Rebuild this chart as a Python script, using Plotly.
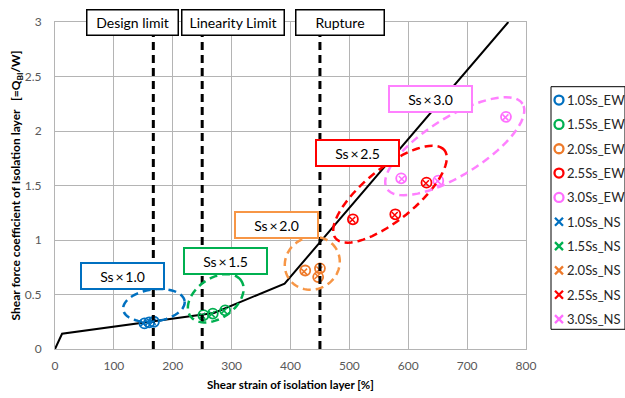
import math
import plotly.graph_objects as go

# ---- data -------------------------------------------------------------
# restoring-force skeleton of the isolation layer (strain %, shear coefficient)
skeleton_strain = [0, 12, 270, 390, 770]
skeleton_coef = [0, 0.14, 0.33, 0.60, 3.00]

# limit strains [%]
limit_names = ["Design limit", "Linearity Limit", "Rupture"]
limit_strain = [167, 250, 450]

# response results per input level
levels = ["1.0Ss", "1.5Ss", "2.0Ss", "2.5Ss", "3.0Ss"]
ew_strain = [[152, 160, 168], [252, 268, 289], [425, 450, 447], [506, 578, 631], [588, 651, 766]]
ew_coef = [[0.235, 0.245, 0.25], [0.31, 0.325, 0.355], [0.72, 0.74, 0.66], [1.19, 1.236, 1.526], [1.566, 1.544, 2.13]]
ns_strain = [[150, 158, 166], [250, 266, 287], [423, 449, 446], [505, 577, 630], [589, 650, 765]]
ns_coef = [[0.235, 0.24, 0.25], [0.305, 0.32, 0.35], [0.71, 0.73, 0.67], [1.185, 1.23, 1.52], [1.56, 1.54, 2.125]]

level_labels = ["Ss\u2009×\u20091.0", "Ss\u2009×\u20091.5", "Ss\u2009×\u20092.0", "Ss\u2009×\u20092.5", "Ss\u2009×\u20093.0"]

# ---- styling ----------------------------------------------------------
marker_colors = ["#0070C0", "#00B050", "#EE7A2A", "#FF0000", "#FF6EFF"]
outline_colors = ["#0070C0", "#00B050", "#F79646", "#FF0000", "#FF80FF"]
FONT = "Lato"
GRID = "#B4B4B4"

W, H = 625, 398
ML, MR, MT, MB = 55, 0, 22, 49
PLOT_W, PLOT_H = 471, 327
X_MAX, Y_MAX = 800, 3
sx = PLOT_W / X_MAX
sy = PLOT_H / Y_MAX

# group outlines: centre (data), semi-axes (px), tilt (deg)
groups = [
    dict(c=(168, 0.40), a=31, b=16, ang=8),
    dict(c=(273, 0.465), a=31, b=20, ang=35),
    dict(c=(437, 0.786), a=28, b=26, ang=30),
    dict(c=(569, 1.42), a=70, b=26, ang=39),
    dict(c=(679, 1.86), a=80, b=29, ang=32),
]
label_pos = [(114, 0.67), (289, 0.81), (377, 1.14), (513, 1.795), (637, 2.29)]
limit_label_pos = [131, 302, 484]
limit_label_w = [88, 99, 85]

fig = go.Figure()

# skeleton curve
fig.add_trace(go.Scatter(x=skeleton_strain, y=skeleton_coef, mode="lines",
                         line=dict(color="black", width=2), showlegend=False,
                         hoverinfo="skip"))

# responses
for i, lev in enumerate(levels):
    fig.add_trace(go.Scatter(x=ew_strain[i], y=ew_coef[i], mode="markers", name=lev + "_EW",
                             marker=dict(symbol="circle-open", size=10, color=marker_colors[i],
                                         line=dict(width=1.8, color=marker_colors[i])),
                             showlegend=False))
for i, lev in enumerate(levels):
    fig.add_trace(go.Scatter(x=ns_strain[i], y=ns_coef[i], mode="markers", name=lev + "_NS",
                             marker=dict(symbol="x-thin", size=6, color=marker_colors[i],
                                         line=dict(width=1.5, color=marker_colors[i])),
                             showlegend=False))

shapes = []
annotations = []

# limit lines
for xs in limit_strain:
    shapes.append(dict(type="line", xref="x", yref="y", x0=xs, x1=xs, y0=0, y1=Y_MAX,
                       line=dict(color="black", width=3, dash="8px,5px"), layer="above"))

# dashed group outlines
for g, col in zip(groups, outline_colors):
    cx, cy = g["c"]
    th = math.radians(g["ang"])
    pts = []
    for k in range(73):
        t = 2 * math.pi * k / 72
        dx = g["a"] * math.cos(t) * math.cos(th) - g["b"] * math.sin(t) * math.sin(th)
        dy = g["a"] * math.cos(t) * math.sin(th) + g["b"] * math.sin(t) * math.cos(th)
        pts.append((cx + dx / sx, cy + dy / sy))
    path = "M " + " L ".join(f"{px:.3f},{py:.4f}" for px, py in pts) + " Z"
    shapes.append(dict(type="path", xref="x", yref="y", path=path,
                       line=dict(color=col, width=2.5, dash="8px,5px"), layer="above"))

# level labels
for (lx, ly), txt, col in zip(label_pos, level_labels, outline_colors):
    annotations.append(dict(x=lx, y=ly, xref="x", yref="y", text=txt, showarrow=False,
                            font=dict(family=FONT, size=14, color="black"),
                            bgcolor="white", bordercolor=col, borderwidth=2, borderpad=1,
                            width=79, height=22))

# limit labels
for lx, txt, w in zip(limit_label_pos, limit_names, limit_label_w):
    annotations.append(dict(x=lx, y=Y_MAX, xref="x", yref="y", text=txt, showarrow=False,
                            yanchor="middle",
                            font=dict(family=FONT, size=14, color="black"),
                            bgcolor="white", bordercolor="black", borderwidth=1.5, borderpad=1,
                            width=w, height=22))

# ---- legend panel -----------------------------------------------------
leg_names = [lev + "_EW" for lev in levels] + [lev + "_NS" for lev in levels]
leg_symbols = ["circle-open"] * 5 + ["x-thin"] * 5
leg_colors = marker_colors + marker_colors
leg_rows = list(range(len(leg_names)))

for r, sym, col in zip(leg_rows, leg_symbols, leg_colors):
    fig.add_trace(go.Scatter(x=[0.108], y=[r], xaxis="x2", yaxis="y2", mode="markers",
                             marker=dict(symbol=sym, size=9 if sym == "circle-open" else 8,
                                         color=col, line=dict(width=2.3, color=col)),
                             showlegend=False, hoverinfo="skip"))
for r, nm in zip(leg_rows, leg_names):
    annotations.append(dict(x=0.19, y=r, xref="x2", yref="y2", text=nm, showarrow=False,
                            xanchor="left", yanchor="middle",
                            font=dict(family=FONT, size=13, color="#262626")))

paper_w = W - ML - MR
paper_h = H - MT - MB
leg_left, leg_top, leg_bottom = 551, 86.7, 329.3
lx0 = (leg_left - ML) / paper_w
ly0 = (H - MB - leg_bottom) / paper_h
ly1 = (H - MB - leg_top) / paper_h
shapes.append(dict(type="rect", xref="paper", yref="paper", x0=lx0, x1=1.0, y0=ly0, y1=ly1,
                   line=dict(color="black", width=1), fillcolor="rgba(0,0,0,0)"))

fig.update_layout(
    width=W, height=H, autosize=False,
    margin=dict(l=ML, r=MR, t=MT, b=MB, autoexpand=False),
    paper_bgcolor="white", plot_bgcolor="white",
    font=dict(family=FONT, size=12, color="#595959"),
    shapes=shapes, annotations=annotations,
    xaxis=dict(domain=[0, PLOT_W / paper_w], range=[0, X_MAX], dtick=100, tick0=0,
               automargin=False,
               showgrid=True, gridcolor=GRID, gridwidth=1, zeroline=False,
               showline=True, linecolor=GRID, linewidth=1, mirror=True,
               ticks="", ticklabelstandoff=6,
               tickfont=dict(family=FONT, size=12, color="#595959"),
               title=dict(text="<b>Shear strain of isolation layer [%]</b>",
                          font=dict(family=FONT, size=11.5, color="black"), standoff=8)),
    yaxis=dict(domain=[0, 1], range=[0, Y_MAX], dtick=0.5, tick0=0,
               automargin=False,
               showgrid=True, gridcolor=GRID, gridwidth=1, zeroline=False,
               showline=True, linecolor=GRID, linewidth=1, mirror=True,
               ticks="", ticklabelstandoff=10,
               tickfont=dict(family=FONT, size=12, color="#595959"),
               title=dict(text="<b>Shear force coefficient of Isolation layer\u00a0\u00a0\u00a0[=Q<sub>BI</sub>/W]</b>",
                          font=dict(family=FONT, size=12, color="black"), standoff=1)),
    xaxis2=dict(domain=[lx0, 1], range=[0, 1], visible=False, anchor="y2",
                fixedrange=True, automargin=False),
    yaxis2=dict(domain=[ly0, ly1], range=[9.42, -0.55], visible=False, anchor="x2",
                fixedrange=True, automargin=False),
    showlegend=False,
)

fig.write_html("out.html")
